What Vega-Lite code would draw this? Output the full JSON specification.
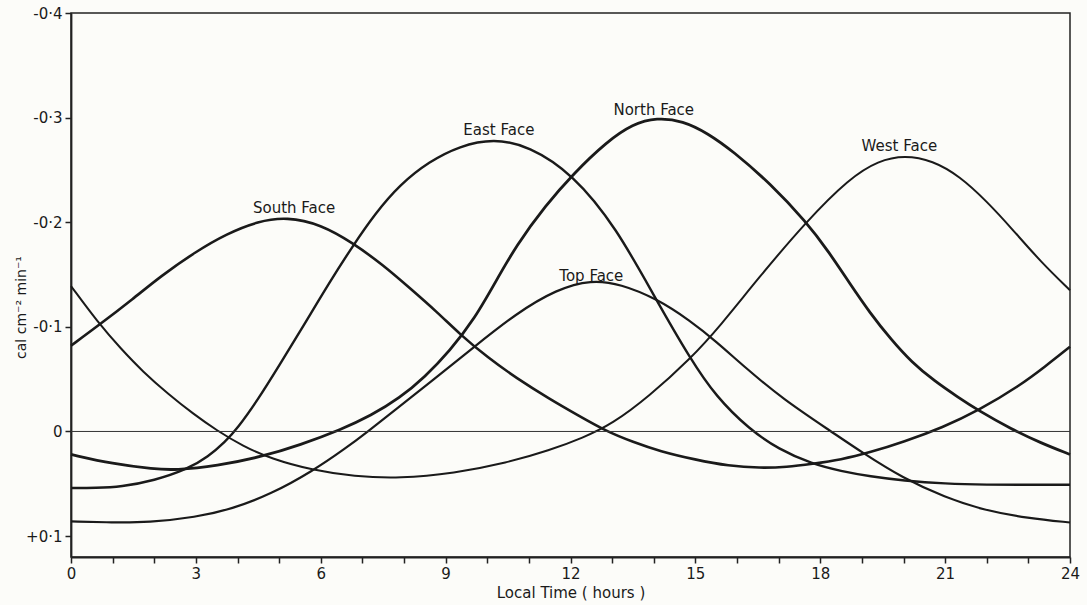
{
  "$schema": "https://vega.github.io/schema/vega-lite/v6.json",
  "width": 999,
  "height": 544,
  "autosize": {"type": "none"},
  "padding": {"left": 71, "top": 13, "right": 17, "bottom": 48},
  "background": "#fcfcf9",
  "config": {
    "view": {"stroke": "#222222", "strokeWidth": 1.5},
    "font": "DejaVu Sans",
    "axis": {"grid": false, "domainColor": "#222222", "domainWidth": 1.8, "tickColor": "#222222", "tickWidth": 1.5, "tickSize": 6, "labelColor": "#1a1a1a", "titleColor": "#1a1a1a", "labelFontSize": 15, "titleFontSize": 15, "titleFontWeight": "normal", "labelFont": "DejaVu Sans", "titleFont": "DejaVu Sans"}
  },
  "datasets": {
    "curves": [
      {"face": "South", "h": 0, "v": -0.082}, {"face": "South", "h": 0.65, "v": -0.101}, {"face": "South", "h": 1.5, "v": -0.127}, {"face": "South", "h": 2.14, "v": -0.148}, {"face": "South", "h": 3, "v": -0.172}, {"face": "South", "h": 3.74, "v": -0.189}, {"face": "South", "h": 4.5, "v": -0.201}, {"face": "South", "h": 5.18, "v": -0.205}, {"face": "South", "h": 6, "v": -0.198}, {"face": "South", "h": 6.78, "v": -0.18}, {"face": "South", "h": 7.5, "v": -0.159}, {"face": "South", "h": 8.14, "v": -0.137}, {"face": "South", "h": 8.8, "v": -0.114}, {"face": "South", "h": 9.34, "v": -0.093}, {"face": "South", "h": 10, "v": -0.071}, {"face": "South", "h": 10.7, "v": -0.051}, {"face": "South", "h": 11.5, "v": -0.031}, {"face": "South", "h": 12.2, "v": -0.015}, {"face": "South", "h": 12.87, "v": 0}, {"face": "South", "h": 13.5, "v": 0.01}, {"face": "South", "h": 14.15, "v": 0.019}, {"face": "South", "h": 15, "v": 0.027}, {"face": "South", "h": 15.8, "v": 0.033}, {"face": "South", "h": 16.55, "v": 0.035}, {"face": "South", "h": 17.2, "v": 0.034}, {"face": "South", "h": 17.8, "v": 0.031}, {"face": "South", "h": 18.5, "v": 0.027}, {"face": "South", "h": 19.2, "v": 0.02}, {"face": "South", "h": 20, "v": 0.01}, {"face": "South", "h": 20.95, "v": -0.004}, {"face": "South", "h": 21.8, "v": -0.02}, {"face": "South", "h": 22.8, "v": -0.044}, {"face": "South", "h": 23.4, "v": -0.062}, {"face": "South", "h": 24, "v": -0.081},

      {"face": "North", "h": 0, "v": 0.022}, {"face": "North", "h": 1, "v": 0.031}, {"face": "North", "h": 2, "v": 0.036}, {"face": "North", "h": 2.5, "v": 0.037}, {"face": "North", "h": 3.5, "v": 0.033}, {"face": "North", "h": 4.6, "v": 0.024}, {"face": "North", "h": 5.5, "v": 0.013}, {"face": "North", "h": 6.5, "v": -0.002}, {"face": "North", "h": 7.2, "v": -0.015}, {"face": "North", "h": 7.9, "v": -0.032}, {"face": "North", "h": 8.5, "v": -0.052}, {"face": "North", "h": 9.1, "v": -0.077}, {"face": "North", "h": 9.7, "v": -0.108}, {"face": "North", "h": 10.2, "v": -0.143}, {"face": "North", "h": 10.7, "v": -0.178}, {"face": "North", "h": 11.4, "v": -0.216}, {"face": "North", "h": 12.06, "v": -0.246}, {"face": "North", "h": 12.87, "v": -0.277}, {"face": "North", "h": 13.5, "v": -0.294}, {"face": "North", "h": 14.07, "v": -0.3}, {"face": "North", "h": 14.7, "v": -0.297}, {"face": "North", "h": 15.3, "v": -0.285}, {"face": "North", "h": 15.9, "v": -0.268}, {"face": "North", "h": 16.8, "v": -0.237}, {"face": "North", "h": 17.67, "v": -0.2}, {"face": "North", "h": 18.2, "v": -0.172}, {"face": "North", "h": 18.7, "v": -0.142}, {"face": "North", "h": 19.2, "v": -0.113}, {"face": "North", "h": 19.7, "v": -0.088}, {"face": "North", "h": 20.2, "v": -0.066}, {"face": "North", "h": 20.75, "v": -0.048}, {"face": "North", "h": 21.3, "v": -0.033}, {"face": "North", "h": 21.8, "v": -0.02}, {"face": "North", "h": 22.6, "v": -0.002}, {"face": "North", "h": 23.3, "v": 0.011}, {"face": "North", "h": 24, "v": 0.022},

      {"face": "East", "h": 0, "v": 0.054}, {"face": "East", "h": 0.6, "v": 0.054}, {"face": "East", "h": 1.2, "v": 0.053}, {"face": "East", "h": 2, "v": 0.047}, {"face": "East", "h": 2.8, "v": 0.036}, {"face": "East", "h": 3.3, "v": 0.024}, {"face": "East", "h": 3.7, "v": 0.01}, {"face": "East", "h": 4.0, "v": -0.003}, {"face": "East", "h": 4.5, "v": -0.031}, {"face": "East", "h": 5, "v": -0.063}, {"face": "East", "h": 5.6, "v": -0.102}, {"face": "East", "h": 6.2, "v": -0.142}, {"face": "East", "h": 6.78, "v": -0.178}, {"face": "East", "h": 7.3, "v": -0.208}, {"face": "East", "h": 7.9, "v": -0.236}, {"face": "East", "h": 8.6, "v": -0.258}, {"face": "East", "h": 9.34, "v": -0.273}, {"face": "East", "h": 10.15, "v": -0.28}, {"face": "East", "h": 11, "v": -0.273}, {"face": "East", "h": 12.06, "v": -0.246}, {"face": "East", "h": 13.1, "v": -0.195}, {"face": "East", "h": 14.07, "v": -0.125}, {"face": "East", "h": 14.87, "v": -0.07}, {"face": "East", "h": 15.5, "v": -0.033}, {"face": "East", "h": 16.3, "v": -0.002}, {"face": "East", "h": 17, "v": 0.017}, {"face": "East", "h": 17.8, "v": 0.031}, {"face": "East", "h": 18.5, "v": 0.038}, {"face": "East", "h": 19.2, "v": 0.043}, {"face": "East", "h": 20, "v": 0.047}, {"face": "East", "h": 21, "v": 0.05}, {"face": "East", "h": 22, "v": 0.051}, {"face": "East", "h": 23, "v": 0.051}, {"face": "East", "h": 24, "v": 0.051},

      {"face": "Top", "h": 0, "v": 0.086}, {"face": "Top", "h": 1, "v": 0.087}, {"face": "Top", "h": 1.85, "v": 0.087}, {"face": "Top", "h": 3, "v": 0.082}, {"face": "Top", "h": 3.87, "v": 0.074}, {"face": "Top", "h": 4.8, "v": 0.06}, {"face": "Top", "h": 5.8, "v": 0.038}, {"face": "Top", "h": 6.6, "v": 0.016}, {"face": "Top", "h": 7.1, "v": 0.001}, {"face": "Top", "h": 7.8, "v": -0.021}, {"face": "Top", "h": 8.66, "v": -0.048}, {"face": "Top", "h": 9.66, "v": -0.08}, {"face": "Top", "h": 10.7, "v": -0.113}, {"face": "Top", "h": 11.67, "v": -0.136}, {"face": "Top", "h": 12.5, "v": -0.145}, {"face": "Top", "h": 13.2, "v": -0.141}, {"face": "Top", "h": 14.07, "v": -0.127}, {"face": "Top", "h": 14.87, "v": -0.106}, {"face": "Top", "h": 15.5, "v": -0.086}, {"face": "Top", "h": 16.2, "v": -0.061}, {"face": "Top", "h": 17.1, "v": -0.031}, {"face": "Top", "h": 18.3, "v": 0.001}, {"face": "Top", "h": 19, "v": 0.02}, {"face": "Top", "h": 20, "v": 0.045}, {"face": "Top", "h": 21, "v": 0.063}, {"face": "Top", "h": 21.9, "v": 0.075}, {"face": "Top", "h": 23, "v": 0.083}, {"face": "Top", "h": 24, "v": 0.087},

      {"face": "West", "h": 0, "v": -0.139}, {"face": "West", "h": 0.65, "v": -0.104}, {"face": "West", "h": 1.2, "v": -0.079}, {"face": "West", "h": 1.73, "v": -0.057}, {"face": "West", "h": 2.33, "v": -0.036}, {"face": "West", "h": 2.93, "v": -0.017}, {"face": "West", "h": 3.5, "v": -0.001}, {"face": "West", "h": 4.13, "v": 0.014}, {"face": "West", "h": 4.8, "v": 0.026}, {"face": "West", "h": 5.8, "v": 0.037}, {"face": "West", "h": 6.8, "v": 0.043}, {"face": "West", "h": 7.9, "v": 0.045}, {"face": "West", "h": 9.2, "v": 0.04}, {"face": "West", "h": 10.47, "v": 0.03}, {"face": "West", "h": 11.5, "v": 0.018}, {"face": "West", "h": 12.3, "v": 0.006}, {"face": "West", "h": 13, "v": -0.007}, {"face": "West", "h": 13.9, "v": -0.034}, {"face": "West", "h": 14.87, "v": -0.069}, {"face": "West", "h": 15.6, "v": -0.101}, {"face": "West", "h": 16.5, "v": -0.146}, {"face": "West", "h": 17.67, "v": -0.201}, {"face": "West", "h": 18.7, "v": -0.242}, {"face": "West", "h": 19.4, "v": -0.259}, {"face": "West", "h": 20.03, "v": -0.264}, {"face": "West", "h": 20.7, "v": -0.259}, {"face": "West", "h": 21.35, "v": -0.244}, {"face": "West", "h": 22, "v": -0.22}, {"face": "West", "h": 22.6, "v": -0.194}, {"face": "West", "h": 23.3, "v": -0.162}, {"face": "West", "h": 24, "v": -0.135}
    ],
    "labels": [
      {"label": "South Face", "h": 5.36, "v": -0.214},
      {"label": "East Face", "h": 10.28, "v": -0.288},
      {"label": "North Face", "h": 14.0, "v": -0.307},
      {"label": "Top Face", "h": 12.5, "v": -0.149},
      {"label": "West Face", "h": 19.9, "v": -0.2725}
    ],
    "zero": [{"v": 0}]
  },
  "layer": [
    {
      "data": {"name": "curves"},
      "mark": {"type": "line", "interpolate": "basis", "color": "#1a1a1a"},
      "encoding": {
        "x": {
          "field": "h", "type": "quantitative",
          "scale": {"domain": [0, 24], "nice": false, "zero": false},
          "axis": {
            "title": "Local  Time  ( hours )",
            "values": [0,1,2,3,4,5,6,7,8,9,10,11,12,13,14,15,16,17,18,19,20,21,22,23,24],
            "labelExpr": "datum.value % 3 == 0 ? datum.label : ''",
            "labelPadding": 3, "titlePadding": 4, "labelFlush": false
          }
        },
        "y": {
          "field": "v", "type": "quantitative",
          "scale": {"domain": [-0.4, 0.12], "reverse": true, "nice": false, "zero": false},
          "axis": {
            "title": "cal cm⁻² min⁻¹",
            "values": [-0.4, -0.3, -0.2, -0.1, 0, 0.1],
            "labelExpr": "datum.value == 0 ? '0' : (datum.value > 0 ? '+0·' : '-0·') + round(abs(datum.value) * 10)",
            "labelPadding": 3,
            "titleX": -50, "titleY": 294, "titleAngle": -90, "titleAlign": "center", "titleBaseline": "middle",
            "titleFontSize": 14
          }
        },
        "detail": {"field": "face", "type": "nominal"},
        "strokeWidth": {
          "field": "face", "type": "nominal",
          "scale": {"domain": ["North", "South", "East", "Top", "West"], "range": [2.8, 2.0, 1.3, 1.3, 1.3]},
          "legend": null
        }
      }
    },
    {
      "data": {"name": "zero"},
      "mark": {"type": "rule", "color": "#333333", "strokeWidth": 1},
      "encoding": {
        "y": {"field": "v", "type": "quantitative"}
      }
    },
    {
      "data": {"name": "labels"},
      "mark": {"type": "text", "align": "center", "baseline": "middle", "fontSize": 15, "color": "#1a1a1a", "font": "DejaVu Sans"},
      "encoding": {
        "x": {"field": "h", "type": "quantitative"},
        "y": {"field": "v", "type": "quantitative"},
        "text": {"field": "label", "type": "nominal"}
      }
    }
  ]
}
